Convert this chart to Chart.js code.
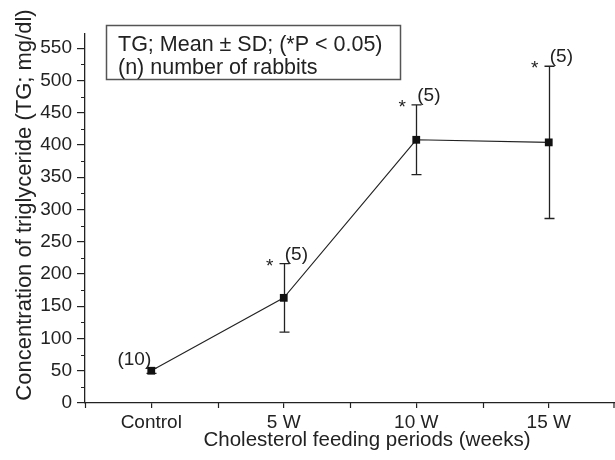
<!DOCTYPE html>
<html><head><meta charset="utf-8">
<script src="https://cdn.jsdelivr.net/npm/chart.js@4/dist/chart.umd.min.js"></script>
<style>html,body{margin:0;padding:0;background:#fff}#wrap{width:615px;height:460px;position:relative}</style>
</head><body><div id="wrap"><canvas id="c"></canvas></div>
<script>
const categories = ['Control', '5 W', '10 W', '15 W'];
const meanTG = [50, 163, 408, 404];
const sdTG = [4, 53, 54, 118];
const nRabbits = [10, 5, 5, 5];
const significant = [false, true, true, true];
const yTicks = [0, 50, 100, 150, 200, 250, 300, 350, 400, 450, 500, 550];
const yMinorTicks = [25, 75, 125, 175, 225, 275, 325, 375, 425, 475, 525];
const xMinorTicks = [-0.5, 0.5, 1.5, 2.5, 3.5];
const legendLines = ['TG; Mean \u00b1 SD; (*P < 0.05)', '(n) number of rabbits'];
const xTitle = 'Cholesterol feeding periods (weeks)';
const yTitle = 'Concentration of triglyceride (TG; mg/dl)';

const FONT = 'Liberation Sans, Arial, sans-serif';
const INK = '#222';

const extras = {
  id: 'extras',
  beforeDatasetsDraw(chart) {
    const {ctx, scales: {x, y}} = chart;
    ctx.save();
    ctx.strokeStyle = INK; ctx.lineWidth = 1.3;
    meanTG.forEach((m, i) => {
      const px = Math.round(x.getPixelForValue(i)) + 0.5;
      const top = y.getPixelForValue(m + sdTG[i]);
      const bot = y.getPixelForValue(m - sdTG[i]);
      ctx.beginPath();
      ctx.moveTo(px, top); ctx.lineTo(px, bot);
      ctx.moveTo(px - 5, top); ctx.lineTo(px + 5, top);
      ctx.moveTo(px - 5, bot); ctx.lineTo(px + 5, bot);
      ctx.stroke();
    });
    ctx.restore();
  },
  afterDraw(chart) {
    const {ctx, scales: {x, y}} = chart;
    ctx.save();
    ctx.strokeStyle = INK; ctx.lineWidth = 1.2;
    // minor ticks
    ctx.beginPath();
    yMinorTicks.forEach(v => {
      const py = Math.round(y.getPixelForValue(v)) + 0.5;
      ctx.moveTo(x.left - 4, py); ctx.lineTo(x.left, py);
    });
    xMinorTicks.forEach(v => {
      const px = Math.min(Math.round(x.getPixelForValue(v)) + 0.5, chart.width - 1);
      ctx.moveTo(px, y.bottom); ctx.lineTo(px, y.bottom + 5);
    });
    ctx.stroke();

    // annotations
    ctx.fillStyle = INK;
    ctx.textBaseline = 'alphabetic';
    meanTG.forEach((m, i) => {
      const px = x.getPixelForValue(i);
      const top = y.getPixelForValue(m + sdTG[i]);
      ctx.font = '19px ' + FONT;
      if (i === 0) {
        ctx.textAlign = 'right';
        ctx.fillText('(' + nRabbits[i] + ')', px, y.getPixelForValue(m) - 6);
      } else {
        ctx.textAlign = 'left';
        ctx.fillText('(' + nRabbits[i] + ')', px + 1, top - 4);
      }
      if (significant[i]) {
        ctx.textAlign = 'center';
        ctx.fillText('*', px - 14, top + 8);
      }
    });

    // legend box
    ctx.strokeStyle = '#555'; ctx.lineWidth = 1.5;
    ctx.strokeRect(106.5, 25.5, 294, 54);
    ctx.font = '21.5px ' + FONT; ctx.textAlign = 'left';
    ctx.fillText(legendLines[0], 118, 51);
    ctx.fillText(legendLines[1], 118, 74);

    // axis titles
    ctx.font = '20.5px ' + FONT; ctx.textAlign = 'center';
    ctx.fillText(xTitle, 367, 446);
    ctx.font = '22px ' + FONT;
    ctx.translate(31, 205); ctx.rotate(-Math.PI / 2);
    ctx.fillText(yTitle, 0, 0);
    ctx.restore();
  }
};

new Chart(document.getElementById('c'), {
  type: 'line',
  data: {
    datasets: [{
      data: meanTG.map((v, i) => ({x: i, y: v})),
      borderColor: INK, borderWidth: 1.1,
      pointStyle: 'rect', pointRadius: 5.5, pointBackgroundColor: '#111', pointBorderColor: '#111', pointBorderWidth: 0,
      tension: 0
    }]
  },
  options: {
    responsive: true, maintainAspectRatio: false, animation: false,
    layout: {autoPadding: false, padding: {top: 34, right: 0, left: 0, bottom: 0}},
    plugins: {legend: {display: false}, tooltip: {enabled: false}},
    scales: {
      x: {
        type: 'linear', min: -0.5, max: 3.5,
        afterBuildTicks: s => { s.ticks = categories.map((c, i) => ({value: i})); },
        afterFit: s => { s.height = 57; s.paddingLeft = 0; s.paddingRight = 0; },
        ticks: {callback: v => categories[v] ?? '', color: INK, font: {family: FONT, size: 19}, padding: 3, maxRotation: 0},
        grid: {drawOnChartArea: false, drawTicks: true, tickLength: 5, color: INK, tickColor: INK, lineWidth: 1.2},
        border: {color: INK, width: 1.3}
      },
      y: {
        min: 0, max: 572,
        afterBuildTicks: s => { s.ticks = yTicks.map(v => ({value: v})); },
        afterFit: s => { s.width = 85; s.paddingTop = 0; s.paddingBottom = 0; },
        ticks: {color: INK, font: {family: FONT, size: 19}, padding: 5},
        grid: {drawOnChartArea: false, drawTicks: true, tickLength: 8, color: INK, tickColor: INK, lineWidth: 1.2},
        border: {color: INK, width: 1.3}
      }
    }
  },
  plugins: [extras]
});
</script></body></html>
